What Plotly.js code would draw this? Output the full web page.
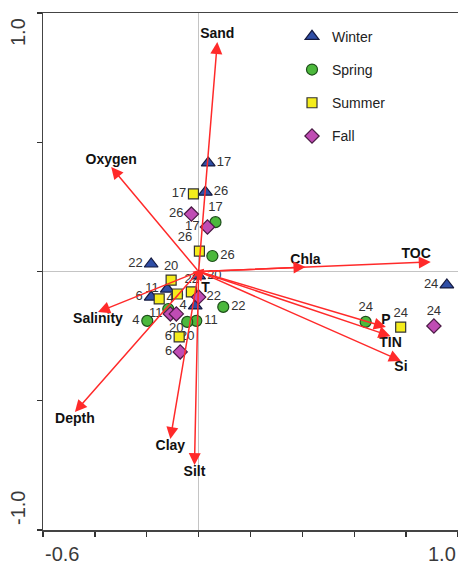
<!DOCTYPE html>
<html>
<head>
<meta charset="utf-8">
<script src="https://cdn.plot.ly/plotly-3.0.1.min.js"></script>
<style>
html,body{margin:0;padding:0;background:#fff;overflow:hidden;}
#chart{width:458px;height:565px;}
</style>
</head>
<body>
<div id="chart"></div>
<script>
// ---- environmental variables (biplot arrows) ----
const varNames = ['Sand', 'Oxygen', 'Chla', 'TOC', 'P', 'TIN', 'Si', 'Salinity', 'Depth', 'Clay', 'Silt', 'T'];
const varX = [0.072, -0.337, 0.412, 0.895, 0.722, 0.740, 0.780, -0.388, -0.477, -0.109, -0.016, 0.010];
const varY = [0.888, 0.404, 0.017, 0.037, -0.215, -0.250, -0.346, -0.157, -0.544, -0.648, -0.749, -0.040];

// ---- station scores by season ----
const winterStations = ['17', '26', '22', '20', '11', '6', '4', '24'];
const winterX = [0.037, 0.026, -0.183, 0.000, -0.121, -0.183, -0.013, 0.957];
const winterY = [0.420, 0.307, 0.029, -0.017, -0.068, -0.099, -0.133, -0.052];

const springStations = ['17', '26', '22', '11', '20', '4', '6', '24'];
const springX = [0.065, 0.053, 0.095, -0.009, -0.044, -0.198, -0.117, 0.644];
const springY = [0.191, 0.060, -0.137, -0.191, -0.195, -0.191, -0.145, -0.195];

const summerStations = ['17', '26', '20', '22', '4', '', '6', '24'];
const summerX = [-0.020, 0.003, -0.106, -0.082, -0.152, -0.028, -0.075, 0.779];
const summerY = [0.300, 0.079, -0.033, -0.087, -0.106, -0.079, -0.253, -0.215];

const fallStations = ['26', '17', '22', '11', '20', '6', '24'];
const fallX = [-0.028, 0.034, 0.000, -0.109, -0.086, -0.071, 0.907];
const fallY = [0.222, 0.172, -0.099, -0.164, -0.164, -0.311, -0.211];

// ---- axis ticks ----
const xTickVals = [-0.6, -0.4, -0.2, 0, 0.2, 0.4, 0.6, 0.8, 1.0];
const yTickVals = [-1.0, -0.5, 0, 0.5, 1.0];

// ---- styles (label placement) ----
const varLabelPos = ['top center', 'top center', 'top center', 'top left', 'top center', 'bottom center',
                     'bottom center', 'bottom center', 'bottom center', 'bottom center', 'bottom center', 'bottom right'];
const winterPos = ['middle right', 'middle right', 'middle left', 'middle right', 'middle left', 'middle left', 'middle left', 'middle left'];
const springPos = ['top center', 'middle right', 'middle right', 'middle right', 'bottom center', 'middle left', 'top right', 'top center'];
const summerPos = ['middle left', 'top left', 'top center', 'top right', 'middle right', 'middle right', 'middle left', 'top center'];
const fallPos = ['middle left', 'middle left', 'middle right', 'middle left', 'bottom center', 'middle left', 'top center'];

const FONT = 'Arial, "Liberation Sans", sans-serif';
const labelFont = {family: FONT, size: 13, color: '#333'};

function seasonTrace(name, x, y, txt, pos, symbol, size, fill, line, grp) {
  return {
    type: 'scatter', mode: 'markers+text', name: name,
    x: x, y: y, text: txt, textposition: pos, textfont: labelFont,
    marker: {symbol: symbol, size: size, color: fill, line: {color: line, width: 1.2}},
    legendgroup: grp, cliponaxis: false, hoverinfo: 'skip'
  };
}

const traces = [
  {
    type: 'scatter', mode: 'text', x: varX, y: varY, text: varNames,
    textposition: varLabelPos, showlegend: false, cliponaxis: false,
    textfont: {family: FONT, size: 14, color: '#111', weight: 'bold'}, hoverinfo: 'skip'
  },
  seasonTrace('Winter', winterX, winterY, winterStations, winterPos, 'triangle-up', 12, '#2f4ea6', '#151a40', 'a'),
  seasonTrace('Spring', springX, springY, springStations, springPos, 'circle', 11, '#4cb83c', '#1d4f1a', 'b'),
  seasonTrace('Summer', summerX, summerY, summerStations, summerPos, 'square', 10, '#f4ec1c', '#333', 'c'),
  seasonTrace('Fall', fallX, fallY, fallStations, fallPos, 'diamond', 11, '#c04cb4', '#4a1a44', 'd')
];

const annotations = [];
for (let i = 0; i < varNames.length; i++) {
  annotations.push({
    x: varX[i], y: varY[i], xref: 'x', yref: 'y',
    ax: 0, ay: 0, axref: 'x', ayref: 'y',
    text: '', showarrow: true, arrowhead: 2, arrowsize: 1.6, arrowwidth: 1.5,
    arrowcolor: '#ff2a2a', standoff: 0, startstandoff: 0
  });
}
const tickFont = {family: FONT, size: 20, color: '#3a3a3a'};
annotations.push({x: xTickVals[0], y: 0, xref: 'x', yref: 'paper', text: '-0.6', showarrow: false,
  xanchor: 'left', yanchor: 'top', yshift: -11, font: tickFont});
annotations.push({x: xTickVals[xTickVals.length - 1], y: 0, xref: 'x', yref: 'paper', text: '1.0', showarrow: false,
  xanchor: 'right', yanchor: 'top', yshift: -11, font: tickFont});
annotations.push({x: 0, y: yTickVals[yTickVals.length - 1], xref: 'paper', yref: 'y', text: '1.0', showarrow: false,
  textangle: -90, xanchor: 'right', yanchor: 'top', xshift: -12, yshift: -3, font: tickFont});
annotations.push({x: 0, y: yTickVals[0], xref: 'paper', yref: 'y', text: '-1.0', showarrow: false,
  textangle: -90, xanchor: 'right', yanchor: 'bottom', xshift: -12, yshift: 3, font: tickFont});

const layout = {
  width: 458, height: 565,
  margin: {l: 43, r: 0, t: 13, b: 35},
  paper_bgcolor: '#fff', plot_bgcolor: '#fff',
  showlegend: true,
  legend: {
    x: 0.6, y: 0.985, xanchor: 'left', yanchor: 'top',
    font: {family: FONT, size: 14, color: '#222'},
    bgcolor: 'rgba(0,0,0,0)', tracegroupgap: 12, traceorder: 'grouped', itemwidth: 30
  },
  xaxis: {
    range: [-0.6, 1.0], tickvals: xTickVals, showticklabels: false,
    ticks: 'outside', ticklen: 5, tickwidth: 1.3, tickcolor: '#333',
    showline: true, linecolor: '#444', linewidth: 1.5, mirror: true,
    showgrid: false, zeroline: true, zerolinecolor: '#c4c4c4', zerolinewidth: 1.5, fixedrange: true
  },
  yaxis: {
    range: [-1.0, 1.0], tickvals: yTickVals, showticklabels: false,
    ticks: 'outside', ticklen: 5, tickwidth: 1.3, tickcolor: '#333',
    showline: true, linecolor: '#444', linewidth: 1.5, mirror: true,
    showgrid: false, zeroline: true, zerolinecolor: '#c4c4c4', zerolinewidth: 1.5, fixedrange: true
  },
  annotations: annotations
};

Plotly.newPlot('chart', traces, layout, {displayModeBar: false, staticPlot: true});
</script>
</body>
</html>
